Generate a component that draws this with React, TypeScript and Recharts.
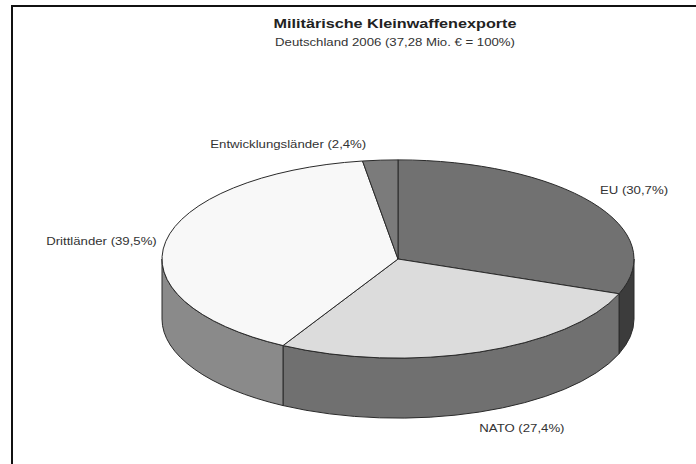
import { Pie, PieChart } from 'recharts'

const SLICE_NAMES = ['EU', 'NATO', 'Drittländer', 'Entwicklungsländer']
const SLICE_SHARES = [30.7, 27.4, 39.5, 2.4]
const SLICE_LABELS = ['EU (30,7%)', 'NATO (27,4%)', 'Drittländer (39,5%)', 'Entwicklungsländer (2,4%)']

const TITLE = 'Militärische Kleinwaffenexporte'
const SUBTITLE = 'Deutschland 2006 (37,28 Mio. € = 100%)'

const TOP_COLORS = ['#717171', '#dcdcdc', '#f8f8f8', '#7b7b7b']
const SIDE_COLORS = ['#3c3c3c', '#707070', '#8a8a8a', '#555555']

// label placement relative to the rim point at each slice's mid angle
const LABEL_ANCHOR: ('start' | 'end' | 'middle')[] = ['start', 'start', 'end', 'end']
const LABEL_DX = [8, 0, -9, -14]
const LABEL_DY = [-9, 20, 4, -12]

const W = 696
const H = 464
const TILT = 0.42
const DEPTH = 60
const RAD = Math.PI / 180
const FONT = '"Liberation Sans", Arial, sans-serif'
const STRETCH = 1.2

const data = SLICE_NAMES.map((name, i) => ({ name, value: SLICE_SHARES[i], label: SLICE_LABELS[i] }))

function rim(cx: number, cy: number, rx: number, a: number): [number, number] {
  return [cx + rx * Math.cos(a * RAD), cy - rx * TILT * Math.sin(a * RAD)]
}

function renderSlice(props: any) {
  const { cx, cy, outerRadius, startAngle, endAngle, midAngle, index } = props
  const rx = outerRadius
  const ry = outerRadius * TILT
  const [sx, sy] = rim(cx, cy, rx, startAngle)
  const [ex, ey] = rim(cx, cy, rx, endAngle)
  const large = Math.abs(startAngle - endAngle) > 180 ? 1 : 0
  const top = `M${cx},${cy} L${sx},${sy} A${rx},${ry} 0 ${large} 1 ${ex},${ey} Z`

  // visible side wall = part of the slice lying on the front half of the disc
  const walls: string[] = []
  for (let k = -2; k <= 1; k++) {
    const lo = Math.max(endAngle, -180 + 360 * k)
    const hi = Math.min(startAngle, 360 * k)
    if (hi - lo > 0.01) {
      const [hx, hy] = rim(cx, cy, rx, hi)
      const [lx, ly] = rim(cx, cy, rx, lo)
      walls.push(
        `M${hx},${hy} A${rx},${ry} 0 0 1 ${lx},${ly} L${lx},${ly + DEPTH} A${rx},${ry} 0 0 0 ${hx},${hy + DEPTH} Z`,
      )
    }
  }

  let [lx, ly] = rim(cx, cy, rx, midAngle)
  if (Math.sin(midAngle * RAD) < 0) ly += DEPTH
  const tx = lx + LABEL_DX[index]
  const ty = ly + LABEL_DY[index]

  return (
    <g key={`slice-${index}`}>
      {walls.map((d, j) => (
        <path key={j} d={d} fill={SIDE_COLORS[index]} stroke="#2a2a2a" strokeWidth={1} />
      ))}
      <path d={top} fill={TOP_COLORS[index]} stroke="#2a2a2a" strokeWidth={1} />
      <text
        transform={`translate(${tx},${ty}) scale(${STRETCH},1)`}
        textAnchor={LABEL_ANCHOR[index]}
        fontFamily={FONT}
        fontSize={11}
        fill="#333"
      >
        {SLICE_LABELS[index]}
      </text>
    </g>
  )
}

export default function App() {
  return (
    <div style={{ position: 'absolute', left: 0, top: 0, width: W, height: H, background: '#fff', overflow: 'hidden' }}>
      <PieChart width={W} height={H} margin={{ top: 0, right: 0, bottom: 0, left: 0 }}>
        <Pie
          data={data}
          dataKey="value"
          nameKey="name"
          cx={398}
          cy={259}
          outerRadius={236}
          startAngle={90}
          endAngle={-270}
          fill="none"
          stroke="none"
          label={renderSlice}
          labelLine={false}
          isAnimationActive={false}
        />
      </PieChart>
      <svg width={W} height={H} style={{ position: 'absolute', left: 0, top: 0, pointerEvents: 'none' }}>
        <line x1={11} y1={6} x2={W} y2={6} stroke="#111" strokeWidth={2} />
        <line x1={12} y1={5} x2={12} y2={H} stroke="#111" strokeWidth={2} />
        <text
          transform={`translate(395,28) scale(${STRETCH},1)`}
          textAnchor="middle"
          fontFamily={FONT}
          fontWeight="bold"
          fontSize={13.5}
          fill="#222"
        >
          {TITLE}
        </text>
        <text
          transform={`translate(395,46) scale(${STRETCH},1)`}
          textAnchor="middle"
          fontFamily={FONT}
          fontSize={11}
          fill="#333"
        >
          {SUBTITLE}
        </text>
      </svg>
    </div>
  )
}
